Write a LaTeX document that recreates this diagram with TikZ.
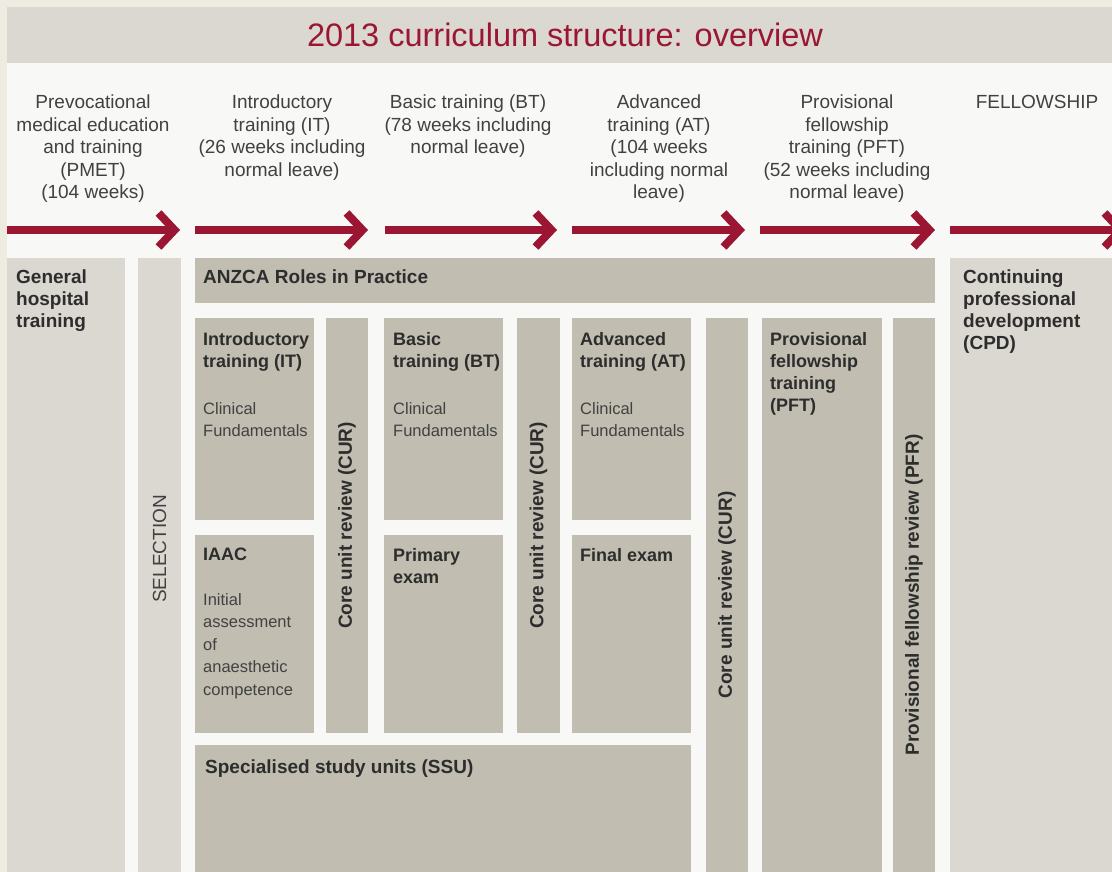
\documentclass[tikz,border=0pt]{standalone}
\usepackage{fontspec}
\setmainfont{Liberation Sans}
\usetikzlibrary{arrows.meta,positioning}
\definecolor{anzred}    {RGB}{155, 22, 50}
\definecolor{boxdark}   {RGB}{193,189,177}
\definecolor{boxlight}  {RGB}{219,215,209}
\definecolor{pagewhite} {RGB}{248,248,246}
\definecolor{pagecream} {RGB}{238,235,224}
\definecolor{txtdark}   {RGB}{ 45, 45, 45}
\definecolor{txtgray}   {RGB}{ 65, 65, 65}
\tikzset{
  box/.style={fill=boxdark,inner sep=0pt,outer sep=0pt,anchor=north west},
  boxlt/.style={box,fill=boxlight},
  head/.style={font=\fontsize{19}{22.5}\selectfont,text=txtgray,
    align=center,anchor=north,inner sep=0pt},
  ttl/.style={font=\fontsize{18}{22}\selectfont\bfseries,text=txtdark,
    align=left,anchor=north west,inner sep=0pt},
  ttlbig/.style={ttl,font=\fontsize{19}{22}\selectfont\bfseries},
  dsc/.style={font=\fontsize{16.5}{22.5}\selectfont,text=txtgray,
    align=left,anchor=north west,inner sep=0pt},
  vert/.style={ttlbig,rotate=90,anchor=center},
  phase/.style={-{Straight Barb[length=16pt,width=34pt]},line width=8pt,
    draw=anzred},
}

\begin{document}
\begin{tikzpicture}[x=1pt,y=-1pt]
  \clip (0,0) rectangle (1112,872);
  % page and title band
  \fill[pagecream] (0,0) rectangle (1112,872);
  \fill[pagewhite] (7,7) rectangle (1112,872);
  \fill[boxlight]  (7,7) rectangle (1112,63);
  \node[font=\fontsize{32.5}{36}\selectfont,text=anzred](title) at (565,34.5)
    {2013 curriculum structure: overview};

  % phase headings
  \node[head](hpmet) at (93,95)
    {Prevocational\\medical education\\and training\\(PMET)\\(104 weeks)};
  \node[head](hit) at (282,95)
    {Introductory\\training (IT)\\(26 weeks including\\normal leave)};
  \node[head](hbt) at (468,95)
    {Basic training (BT)\\(78 weeks including\\normal leave)};
  \node[head](hat) at (659,95)
    {Advanced\\training (AT)\\(104 weeks\\including normal\\leave)};
  \node[head](hpft) at (847,95)
    {Provisional\\fellowship\\training (PFT)\\(52 weeks including\\normal leave)};
  \node[head](hfel) at (1037,95){FELLOWSHIP};

  \foreach \s/\e [count=\i] in {7/180,195/368,385/557,572/745,760/935,950/1126}{
    \coordinate (ps\i) at (\s,230);
    \coordinate (pe\i) at (\e,230);
    \draw[phase](ps\i)--(pe\i);
  }

  % outer columns
  \node[boxlt,minimum width=118pt,minimum height=614pt](gen) at (7,258){};
  \node[boxlt,minimum width=43pt,minimum height=614pt](sel) at (138,258){};
  \node[box,minimum width=740pt,minimum height=45pt](roles) at (195,258){};
  \node[boxlt,minimum width=162pt,minimum height=614pt](cpd) at (950,258){};

  % training blocks
  \node[box,minimum width=119pt,minimum height=202pt](it) at (195,318){};
  \node[box,below=15pt of it,minimum width=119pt,minimum height=198pt](iaac){};
  \node[box,right=12pt of it.north east,anchor=north west,
    minimum width=42pt,minimum height=415pt](cur1){};
  \node[box,right=16pt of cur1.north east,anchor=north west,
    minimum width=119pt,minimum height=202pt](bt){};
  \node[box,below=15pt of bt,minimum width=119pt,minimum height=198pt](pex){};
  \node[box,right=14pt of bt.north east,anchor=north west,
    minimum width=43pt,minimum height=415pt](cur2){};
  \node[box,right=12pt of cur2.north east,anchor=north west,
    minimum width=119pt,minimum height=202pt](at){};
  \node[box,below=15pt of at,minimum width=119pt,minimum height=198pt](fex){};
  \node[box,below=12pt of iaac.south west,anchor=north west,
    minimum width=496pt,minimum height=127pt](ssu){};
  \node[box,right=15pt of at.north east,anchor=north west,
    minimum width=42pt,minimum height=554pt](cur3){};
  \node[box,right=14pt of cur3.north east,anchor=north west,
    minimum width=120pt,minimum height=554pt](pft){};
  \node[box,right=11pt of pft.north east,anchor=north west,
    minimum width=42pt,minimum height=554pt](pfr){};

  % labels
  \node[ttlbig](genT) at ([xshift=9pt,yshift=-12pt]gen.north west)
    {General\\hospital\\training};
  \node[vert,font=\fontsize{19}{22}\selectfont,text=txtgray](selT)
    at ([yshift=16pt]sel.center){SELECTION};
  \node[ttlbig](rolesT) at ([xshift=8pt,yshift=-12pt]roles.north west)
    {ANZCA Roles in Practice};
  \node[ttlbig](cpdT) at ([xshift=13pt,yshift=-12pt]cpd.north west)
    {Continuing\\professional\\development\\(CPD)};
  \node[ttl](itT) at ([xshift=8pt,yshift=-14pt]it.north west)
    {Introductory\\training (IT)};
  \node[dsc](itD) at ([xshift=8pt,yshift=-84pt]it.north west)
    {Clinical\\Fundamentals};
  \node[ttl](iaacT) at ([xshift=8pt,yshift=-13pt]iaac.north west){IAAC};
  \node[dsc](iaacD) at ([xshift=8pt,yshift=-58pt]iaac.north west)
    {Initial\\assessment\\of\\anaesthetic\\competence};
  \node[ttl](btT) at ([xshift=9pt,yshift=-14pt]bt.north west)
    {Basic\\training (BT)};
  \node[dsc](btD) at ([xshift=9pt,yshift=-84pt]bt.north west)
    {Clinical\\Fundamentals};
  \node[ttl](pexT) at ([xshift=9pt,yshift=-13pt]pex.north west)
    {Primary\\exam};
  \node[ttl](atT) at ([xshift=8pt,yshift=-14pt]at.north west)
    {Advanced\\training (AT)};
  \node[dsc](atD) at ([xshift=8pt,yshift=-84pt]at.north west)
    {Clinical\\Fundamentals};
  \node[ttl](fexT) at ([xshift=8pt,yshift=-13pt]fex.north west){Final exam};
  \node[ttlbig](ssuT) at ([xshift=10pt,yshift=-15pt]ssu.north west)
    {Specialised study units (SSU)};
  \node[ttl](pftT) at ([xshift=8pt,yshift=-14pt]pft.north west)
    {Provisional\\fellowship\\training\\(PFT)};
  \node[vert](cur1T) at (cur1.center){Core unit review (CUR)};
  \node[vert](cur2T) at (cur2.center){Core unit review (CUR)};
  \node[vert](cur3T) at (cur3.center){Core unit review (CUR)};
  \node[vert](pfrT) at (pfr.center){Provisional fellowship review (PFR)};
\end{tikzpicture}
\end{document}
